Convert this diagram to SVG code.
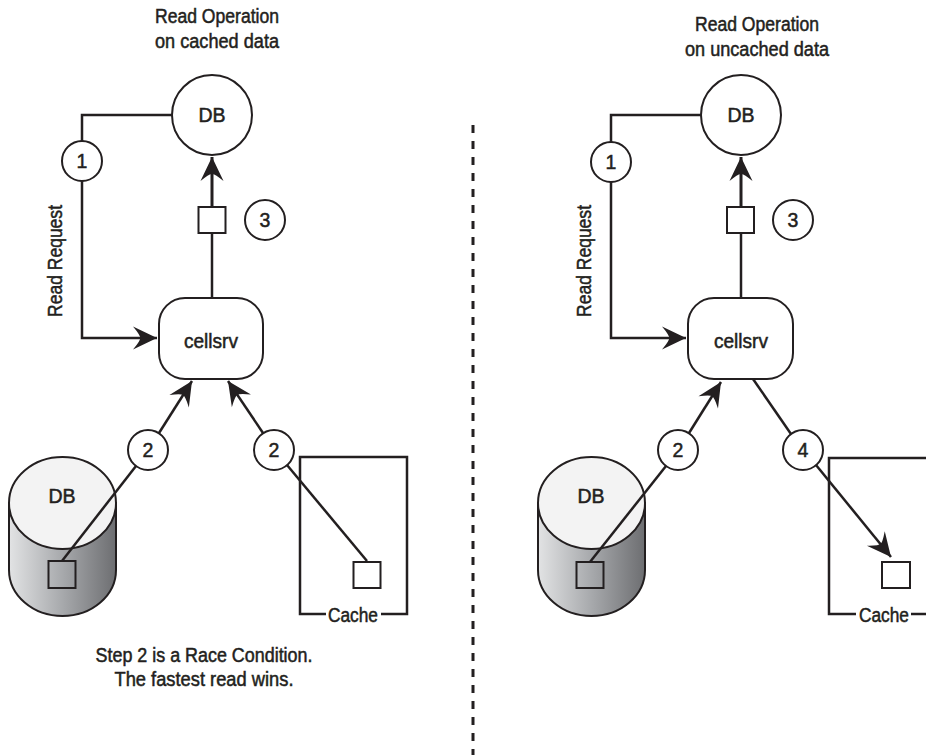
<svg xmlns="http://www.w3.org/2000/svg" width="926" height="755" viewBox="0 0 926 755">
<defs>
<style>
text{font-family:"Liberation Sans Narrow","Liberation Sans",Arial,sans-serif;font-size:19.5px;fill:#231f20;stroke:#231f20;stroke-width:0.5;text-anchor:middle}
.s{fill:none;stroke:#231f20;stroke-width:2.5}
.t{fill:none;stroke:#231f20;stroke-width:3}
.c{fill:#fff;stroke:#231f20;stroke-width:2}
.b{fill:#fff;stroke:#231f20;stroke-width:2}
.top{fill:#f3f3f3;stroke:#231f20;stroke-width:2}
.cyl{fill:url(#g);stroke:#231f20;stroke-width:2}
.sq{fill:none;stroke:#231f20;stroke-width:2}
.w{fill:#fff;stroke:#231f20;stroke-width:2}
</style>
<linearGradient id="g" x1="0" y1="0" x2="1" y2="0">
<stop offset="0" stop-color="#e2e3e4"/>
<stop offset="0.5" stop-color="#a7a9ac"/>
<stop offset="1" stop-color="#6d6e71"/>
</linearGradient>
<marker id="ah" viewBox="-25 -12 27 24" refX="0" refY="0" markerWidth="27" markerHeight="24" markerUnits="userSpaceOnUse" orient="auto">
<path d="M0,0 L-24,-11.5 Q-16,-2 -17,0 Q-16,2 -24,11.5 Z" fill="#231f20"/>
</marker>
</defs>

<rect x="0" y="0" width="926" height="755" fill="#fff"/>

<g id="titles">
<text x="217" y="23" textLength="124" lengthAdjust="spacingAndGlyphs">Read Operation</text>
<text x="217" y="48" textLength="124" lengthAdjust="spacingAndGlyphs">on cached data</text>
<text x="757" y="31" textLength="124" lengthAdjust="spacingAndGlyphs">Read Operation</text>
<text x="757" y="56" textLength="144" lengthAdjust="spacingAndGlyphs">on uncached data</text>
<text x="204" y="662" textLength="217" lengthAdjust="spacingAndGlyphs">Step 2 is a Race Condition.</text>
<text x="204" y="686" textLength="179" lengthAdjust="spacingAndGlyphs">The fastest read wins.</text>
</g>

<g id="left-db">
<circle class="c" cx="212" cy="115" r="40"/>
<text x="212" y="122">DB</text>
</g>
<g id="left-step1">
<circle class="c" cx="82" cy="161" r="20"/>
<text x="82" y="168">1</text>
</g>
<g id="left-readrequest">
<text transform="translate(62,261) rotate(-90)" x="0" y="0" textLength="112" lengthAdjust="spacingAndGlyphs">Read Request</text>
</g>
<g id="left-block3">
<rect class="w" x="198.5" y="207" width="27" height="26"/>
</g>
<g id="left-step3">
<circle class="c" cx="265" cy="220" r="20"/>
<text x="265" y="227">3</text>
</g>
<g id="left-cellsrv">
<rect class="b" x="159" y="298" width="104" height="81" rx="26" ry="26"/>
<text x="211" y="348" textLength="54" lengthAdjust="spacingAndGlyphs">cellsrv</text>
</g>
<g id="left-step2a">
<circle class="c" cx="148" cy="450" r="20"/>
<text x="148" y="457">2</text>
</g>
<g id="left-step2b">
<circle class="c" cx="274" cy="450" r="20"/>
<text x="274" y="457">2</text>
</g>
<g id="left-disk">
<path class="cyl" d="M9,503 V570 A53.5,46 0 0 0 116,570 V503 Z"/>
<ellipse class="top" cx="62.5" cy="503" rx="53.5" ry="46"/>
<text x="62" y="503">DB</text>
<rect class="sq" x="48.5" y="561" width="27" height="27"/>
</g>
<g id="left-cache">
<path class="s" d="M326,614 H300 V457 H407 V614 H381"/>
<text x="353" y="622" textLength="50" lengthAdjust="spacingAndGlyphs">Cache</text>
<rect class="w" x="353.5" y="562" width="27" height="26"/>
</g>

<g id="right-db">
<circle class="c" cx="741" cy="115" r="40"/>
<text x="741" y="122">DB</text>
</g>
<g id="right-step1">
<circle class="c" cx="611" cy="162" r="20"/>
<text x="611" y="169">1</text>
</g>
<g id="right-readrequest">
<text transform="translate(591,261) rotate(-90)" x="0" y="0" textLength="112" lengthAdjust="spacingAndGlyphs">Read Request</text>
</g>
<g id="right-block3">
<rect class="w" x="727" y="207" width="27" height="26"/>
</g>
<g id="right-step3">
<circle class="c" cx="793" cy="220" r="20"/>
<text x="793" y="227">3</text>
</g>
<g id="right-cellsrv">
<rect class="b" x="688" y="298" width="105" height="81" rx="26" ry="26"/>
<text x="741" y="348" textLength="54" lengthAdjust="spacingAndGlyphs">cellsrv</text>
</g>
<g id="right-step2">
<circle class="c" cx="678" cy="450" r="20"/>
<text x="678" y="457">2</text>
</g>
<g id="right-step4">
<circle class="c" cx="803" cy="450" r="20"/>
<text x="803" y="457">4</text>
</g>
<g id="right-disk">
<path class="cyl" d="M538,503 V570 A53.5,46 0 0 0 645,570 V503 Z"/>
<ellipse class="top" cx="591.5" cy="503" rx="53.5" ry="46"/>
<text x="591" y="503">DB</text>
<rect class="sq" x="576.5" y="562" width="27" height="26"/>
</g>
<g id="right-cache">
<path class="s" d="M856,614 H829 V458 H930"/>
<path class="s" d="M911,614 H930"/>
<text x="884" y="622" textLength="50" lengthAdjust="spacingAndGlyphs">Cache</text>
<rect class="w" x="882" y="562" width="28" height="26"/>
</g>

<g id="connectors">
<!-- left panel -->
<path class="s" d="M172,115 H82 V141"/>
<path class="s" d="M82,181 V338 H157" marker-end="url(#ah)"/>
<path class="s" d="M212,298 V233"/>
<path class="t" d="M212,207 V157" marker-end="url(#ah)"/>
<path class="s" d="M159,433 L192,381" marker-end="url(#ah)"/>
<path class="s" d="M136,466 L62,561"/>
<path class="s" d="M263,433 L228,381" marker-end="url(#ah)"/>
<path class="s" d="M287,465 L367,561"/>
<!-- right panel -->
<path class="s" d="M701,115 H611 V142"/>
<path class="s" d="M611,182 V338 H686" marker-end="url(#ah)"/>
<path class="s" d="M741,298 V233"/>
<path class="t" d="M741,207 V157" marker-end="url(#ah)"/>
<path class="s" d="M689,433 L721,382" marker-end="url(#ah)"/>
<path class="s" d="M666,466 L590,562"/>
<path class="s" d="M753,379 L791,434"/>
<path class="s" d="M816,465 L891,557" marker-end="url(#ah)"/>
<!-- divider -->
<line x1="473" y1="125" x2="473" y2="755" stroke="#231f20" stroke-width="3" stroke-dasharray="8 8"/>
</g>
</svg>
